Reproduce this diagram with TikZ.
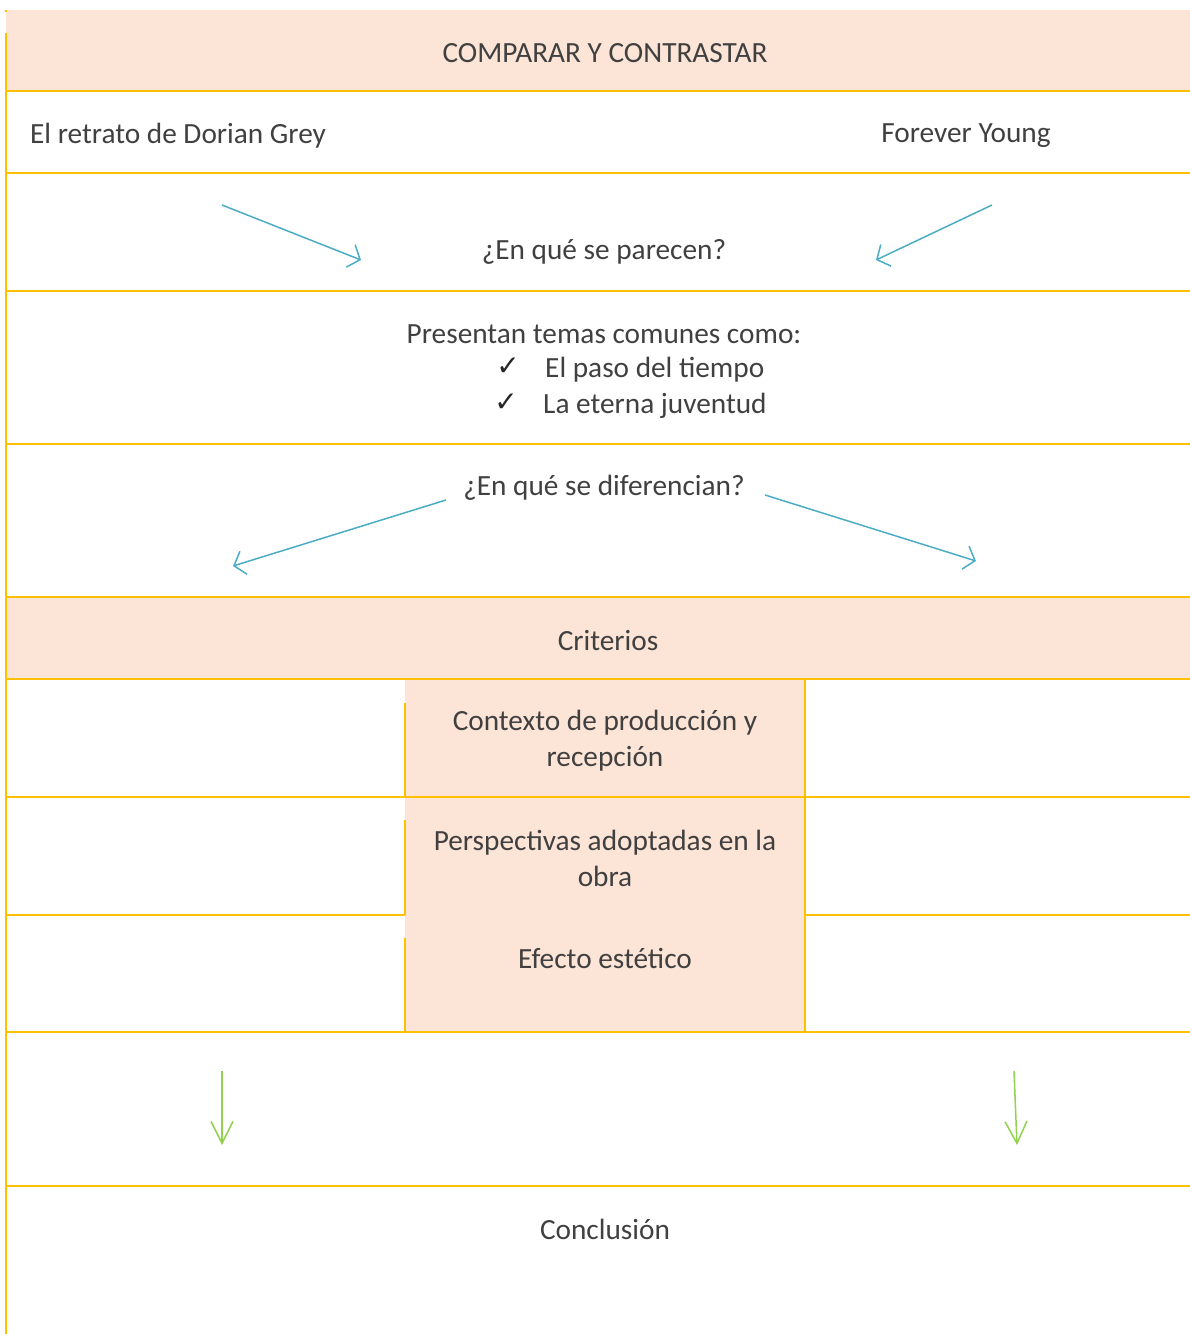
\documentclass[tikz,border=0pt]{standalone}
\usepackage{fontspec}
\setmainfont{Carlito}
\newfontfamily\symfont{DejaVu Sans}
\usetikzlibrary{arrows.meta}
\definecolor{peach}{HTML}{FCE4D6}
\definecolor{gold}{HTML}{FFC000}
\definecolor{txt}{HTML}{404040}
\definecolor{arrblue}{HTML}{4BACC6}
\definecolor{arrgreen}{HTML}{92D050}
\tikzset{
  grid/.style={draw=gold, line width=1.3pt},
  lbl/.style={text=txt, font=\fontsize{29.3}{36}\selectfont, inner sep=0pt},
  lblleft/.style={lbl, anchor=west},
  chk/.style={text=black!85, font=\symfont\fontsize{28}{30}\selectfont, inner sep=0pt},
  bluearrow/.style={draw=arrblue, line width=1.5pt, -{Straight Barb[length=10pt,width=24pt,line width=1.5pt]}},
  greenarrow/.style={draw=arrgreen, line width=1.5pt, -{Straight Barb[length=22pt,width=22pt,line width=1.5pt]}},
}
\begin{document}
\begin{tikzpicture}[x=1pt,y=-1pt]
\useasboundingbox (0,0) rectangle (1190,1334);
% fills
\fill[peach] (6,10) rectangle (1190,91);
\fill[peach] (6,597) rectangle (1190,679);
\fill[peach] (405,679) rectangle (805,1032);
% horizontal rules
\foreach \yy in {91,173,291,444,597,679,797,1032,1186}
  \draw[grid] (6,\yy) -- (1190,\yy);
\draw[grid] (6,915) -- (405,915);
\draw[grid] (805,915) -- (1190,915);
% vertical rules
\draw[grid] (6,10) -- (6,12);
\draw[grid] (6,33) -- (6,1334);
\draw[grid] (805,679) -- (805,1032);
\draw[grid] (405,703) -- (405,797);
\draw[grid] (405,820) -- (405,915);
\draw[grid] (405,938) -- (405,1032);
% texts
\node[lbl] (title) at (605,53) {COMPARAR Y CONTRASTAR};
\node[lblleft] (dorian) at (30,136) {El retrato de Dorian Grey};
\node[lbl] (forever) at (966,136) {Forever Young};
\node[lbl] (parecen) at (604,252) {¿En qué se parecen?};
\node[lbl] (presentan) at (604,334) {Presentan temas comunes como:};
\node[chk] (chk1) at (508,367) {✓};
\node[chk] (chk2) at (506,403) {✓};
\node[lblleft] (paso) at (545,370) {El paso del tiempo};
\node[lblleft] (eterna) at (543,406) {La eterna juventud};
\node[lbl] (difer) at (604,488) {¿En qué se diferencian?};
\node[lbl] (criterios) at (608,641) {Criterios};
\node[lbl, align=center] (contexto) at (605,741) {Contexto de producción y\\recepción};
\node[lbl, align=center] (perspec) at (605,858) {Perspectivas adoptadas en la\\obra};
\node[lbl] (efecto) at (605,958) {Efecto estético};
\node[lbl] (conclusion) at (605,1229) {Conclusión};
% arrow end points
\coordinate (a1s) at (222,205); \coordinate (a1e) at (361,260);
\coordinate (a2s) at (992,205); \coordinate (a2e) at (876,260);
\coordinate (a3s) at (446,500); \coordinate (a3e) at (233,566);
\coordinate (a4s) at (765,495); \coordinate (a4e) at (976,561);
\coordinate (g1s) at (222,1071); \coordinate (g1e) at (222,1145);
\coordinate (g2s) at (1014,1071); \coordinate (g2e) at (1017,1145);
\draw[bluearrow] (a1s) -- (a1e);
\draw[bluearrow] (a2s) -- (a2e);
\draw[bluearrow] (a3s) -- (a3e);
\draw[bluearrow] (a4s) -- (a4e);
\draw[greenarrow] (g1s) -- (g1e);
\draw[greenarrow] (g2s) -- (g2e);
\end{tikzpicture}
\end{document}
